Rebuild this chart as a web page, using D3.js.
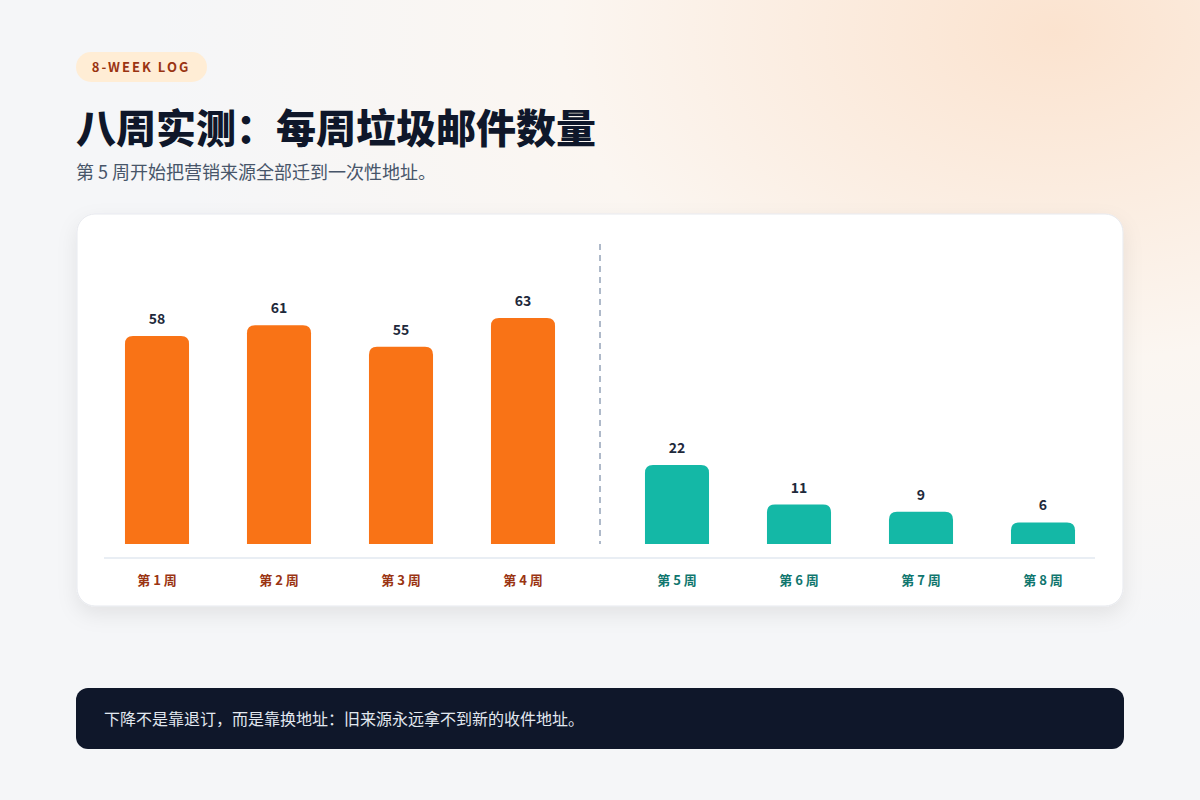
<!DOCTYPE html>
<html>
<head>
<meta charset="utf-8">
<script src="https://d3js.org/d3.v7.min.js"></script>
<style>
  body { margin: 0; }
  svg { display: block; font-family: "Noto Sans CJK SC", "Noto Sans", sans-serif; }
</style>
</head>
<body>
<div id="chart"></div>
<script>
const weeks = ["第 1 周", "第 2 周", "第 3 周", "第 4 周", "第 5 周", "第 6 周", "第 7 周", "第 8 周"];
const spam = [58, 61, 55, 63, 22, 11, 9, 6];
const phase = ["before", "before", "before", "before", "after", "after", "after", "after"];

const W = 1200, H = 800;
const svg = d3.select("#chart").append("svg").attr("width", W).attr("height", H);

const defs = svg.append("defs");
const bg = defs.append("radialGradient").attr("id", "bg")
  .attr("cx", "88%").attr("cy", "4%").attr("r", "75%");
bg.append("stop").attr("offset", "0%").attr("stop-color", "#fbe3cf");
bg.append("stop").attr("offset", "55%").attr("stop-color", "#fbf6f1");
bg.append("stop").attr("offset", "100%").attr("stop-color", "#f5f6f8");
const shadow = defs.append("filter").attr("id", "shadow").attr("x", "-10%").attr("y", "-10%").attr("width", "120%").attr("height", "130%");
shadow.append("feDropShadow").attr("dx", 0).attr("dy", 8).attr("stdDeviation", 10)
  .attr("flood-color", "#0f172a").attr("flood-opacity", 0.08);

svg.append("rect").attr("width", W).attr("height", H).attr("fill", "url(#bg)");

// header
svg.append("rect").attr("x", 76).attr("y", 52).attr("width", 131).attr("height", 30).attr("rx", 15).attr("fill", "#ffedd5");
svg.append("text").attr("x", 141).attr("y", 72).attr("text-anchor", "middle")
  .attr("font-size", 13).attr("font-weight", 700).attr("letter-spacing", 2).attr("fill", "#9a3412").text("8-WEEK LOG");
svg.append("text").attr("x", 76).attr("y", 143).attr("font-size", 40).attr("font-weight", 900)
  .attr("fill", "#0f172a").text("八周实测：每周垃圾邮件数量");
svg.append("text").attr("x", 76).attr("y", 179).attr("font-size", 18).attr("fill", "#475569")
  .text("第 5 周开始把营销来源全部迁到一次性地址。");

// card
svg.append("rect").attr("x", 77).attr("y", 214).attr("width", 1046).attr("height", 392).attr("rx", 18)
  .attr("fill", "#ffffff").attr("stroke", "#e7e9ee").attr("filter", "url(#shadow)");

const x = d3.scaleBand().domain(weeks).range([96, 1072]).paddingInner(0.475).paddingOuter(0.2375);
const gap = 32;
const xc = (d, i) => x(d) + (phase[i] === "after" ? gap : 0);
const y = d3.scaleLinear().domain([0, 63]).range([544, 318]);
const color = { before: "#f97316", after: "#14b8a6" };
const labelColor = { before: "#9a3412", after: "#0f766e" };

function topRounded(x0, y0, w, h, r) {
  r = Math.min(r, h, w / 2);
  return `M${x0},${y0 + h}V${y0 + r}Q${x0},${y0} ${x0 + r},${y0}H${x0 + w - r}Q${x0 + w},${y0} ${x0 + w},${y0 + r}V${y0 + h}Z`;
}

const g = svg.append("g");
g.selectAll("path.bar").data(spam).join("path").attr("class", "bar")
  .attr("d", (d, i) => topRounded(xc(weeks[i], i), y(d), x.bandwidth(), y(0) - y(d), 8))
  .attr("fill", (d, i) => color[phase[i]]);

g.selectAll("text.val").data(spam).join("text").attr("class", "val")
  .attr("x", (d, i) => xc(weeks[i], i) + x.bandwidth() / 2)
  .attr("y", d => y(d) - 12)
  .attr("text-anchor", "middle").attr("font-size", 14).attr("font-weight", 700).attr("fill", "#1e293b")
  .text(d => d);

// baseline + axis labels
g.append("line").attr("x1", 104).attr("x2", 1095).attr("y1", 558).attr("y2", 558)
  .attr("stroke", "#e2e8f0").attr("stroke-width", 1.5);
g.selectAll("text.wk").data(weeks).join("text").attr("class", "wk")
  .attr("x", (d, i) => xc(d, i) + x.bandwidth() / 2).attr("y", 585)
  .attr("text-anchor", "middle").attr("font-size", 13).attr("font-weight", 700)
  .attr("fill", (d, i) => labelColor[phase[i]]).text(d => d.replace(/ /g, " "));

// divider between week 4 and 5
const divX = (xc(weeks[3], 3) + x.bandwidth() + xc(weeks[4], 4)) / 2;
g.append("line").attr("x1", divX).attr("x2", divX).attr("y1", 244).attr("y2", 544)
  .attr("stroke", "#94a3b8").attr("stroke-width", 1.5).attr("stroke-dasharray", "6,5");

// footer
svg.append("rect").attr("x", 76).attr("y", 688).attr("width", 1048).attr("height", 61).attr("rx", 12).attr("fill", "#0f172a");
svg.append("text").attr("x", 104).attr("y", 725).attr("font-size", 16).attr("fill", "#e2e8f0")
  .text("下降不是靠退订，而是靠换地址：旧来源永远拿不到新的收件地址。");
</script>
</body>
</html>
